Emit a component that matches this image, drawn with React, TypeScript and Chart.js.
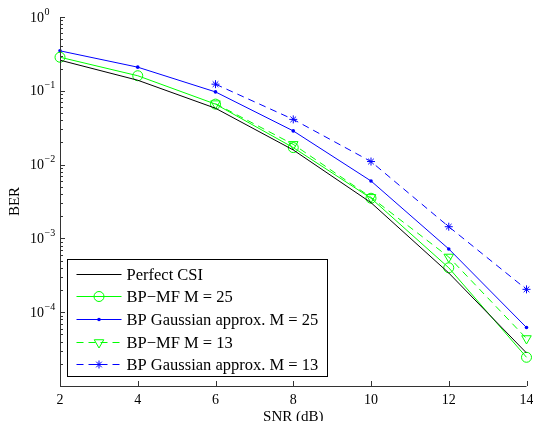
import React, { useEffect, useRef } from 'react';
import { Chart, registerables } from 'chart.js';

Chart.register(...registerables);

const snr = [2, 4, 6, 8, 10, 12, 14];
const perfectCSI = [0.26, 0.139, 0.058, 0.0158, 0.00305, 3.4e-4, 2.8e-5];
const bpMf25 = [0.285, 0.16, 0.066, 0.017, 0.0035, 4.0e-4, 2.45e-5];
const bpGauss25 = [0.348, 0.209, 0.0966, 0.0286, 0.006, 7.2e-4, 6.2e-5];
const bpMf13 = [null, null, 0.067, 0.0188, 0.0036, 5.6e-4, 4.4e-5];
const bpGauss13 = [null, null, 0.123, 0.041, 0.011, 0.00144, 2.04e-4];
const xTicks = [2, 4, 6, 8, 10, 12, 14];
const yLabelExponents = [0, -1, -2, -3, -4];
const legendLabels = [
  'Perfect CSI',
  'BP\u2212MF M = 25',
  'BP Gaussian approx. M = 25',
  'BP\u2212MF M = 13',
  'BP Gaussian approx. M = 13',
];

const FONT = '"Liberation Serif", "DejaVu Serif", serif';
const AXIS = '#333333';
const GREEN = '#00ff00';
const BLUE = '#0000ff';

function toPoints(vals: (number | null)[]) {
  const out: { x: number; y: number }[] = [];
  vals.forEach((v, i) => {
    if (v !== null) out.push({ x: snr[i], y: v });
  });
  return out;
}

function drawMarker(ctx: CanvasRenderingContext2D, kind: string, x: number, y: number, color: string) {
  ctx.save();
  ctx.strokeStyle = color;
  ctx.fillStyle = color;
  ctx.lineWidth = 1;
  ctx.setLineDash([]);
  ctx.beginPath();
  if (kind === 'circle') {
    ctx.arc(x, y, 5, 0, Math.PI * 2);
    ctx.stroke();
  } else if (kind === 'dot') {
    ctx.arc(x, y, 1.8, 0, Math.PI * 2);
    ctx.fill();
  } else if (kind === 'tri') {
    const r = 5.5;
    ctx.moveTo(x - r * 0.866, y - r * 0.5);
    ctx.lineTo(x + r * 0.866, y - r * 0.5);
    ctx.lineTo(x, y + r);
    ctx.closePath();
    ctx.stroke();
  } else if (kind === 'star') {
    const r = 4;
    ctx.moveTo(x - r, y); ctx.lineTo(x + r, y);
    ctx.moveTo(x, y - r); ctx.lineTo(x, y + r);
    const d = r * 0.707;
    ctx.moveTo(x - d, y - d); ctx.lineTo(x + d, y + d);
    ctx.moveTo(x - d, y + d); ctx.lineTo(x + d, y - d);
    ctx.stroke();
  }
  ctx.restore();
}

const legendStyles = [
  { color: '#000000', dash: [] as number[], marker: '' },
  { color: GREEN, dash: [] as number[], marker: 'circle' },
  { color: BLUE, dash: [] as number[], marker: 'dot' },
  { color: GREEN, dash: [7, 5], marker: 'tri' },
  { color: BLUE, dash: [7, 5], marker: 'star' },
];

const matlabPlugin = {
  id: 'matlabAxes',
  afterDraw(chart: any) {
    const ctx: CanvasRenderingContext2D = chart.ctx;
    const ca = chart.chartArea;
    const xs = chart.scales.x;
    const ys = chart.scales.y;
    ctx.save();
    ctx.strokeStyle = AXIS;
    ctx.lineWidth = 1;
    ctx.setLineDash([]);
    ctx.beginPath();
    ctx.moveTo(ca.left + 0.5, ca.top);
    ctx.lineTo(ca.left + 0.5, ca.bottom + 0.5);
    ctx.lineTo(ca.right, ca.bottom + 0.5);
    ctx.stroke();
    ctx.beginPath();
    for (let d = -5; d <= 0; d++) {
      const y = Math.round(ys.getPixelForValue(Math.pow(10, d))) + 0.5;
      ctx.moveTo(ca.left, y);
      ctx.lineTo(ca.left + 5, y);
      if (d < 0) {
        for (let k = 2; k <= 9; k++) {
          const ym = Math.round(ys.getPixelForValue(k * Math.pow(10, d))) + 0.5;
          ctx.moveTo(ca.left, ym);
          ctx.lineTo(ca.left + 3, ym);
        }
      }
    }
    xTicks.forEach((t) => {
      const x = Math.round(xs.getPixelForValue(t)) + 0.5;
      ctx.moveTo(x, ca.bottom);
      ctx.lineTo(x, ca.bottom - 5);
    });
    ctx.stroke();

    ctx.fillStyle = '#000';
    ctx.font = `14px ${FONT}`;
    ctx.textAlign = 'center';
    ctx.textBaseline = 'middle';
    xTicks.forEach((t) => {
      ctx.fillText(String(t), xs.getPixelForValue(t), ca.bottom + 14);
    });
    yLabelExponents.forEach((e) => {
      const y = ys.getPixelForValue(Math.pow(10, e));
      ctx.font = `14px ${FONT}`;
      ctx.textAlign = 'right';
      ctx.textBaseline = 'middle';
      const baseRight = ca.left - 16;
      ctx.fillText('10', baseRight, y + 1);
      ctx.font = `10px ${FONT}`;
      ctx.textAlign = 'left';
      const sup = e === 0 ? '0' : '\u2212' + String(-e);
      ctx.fillText(sup, baseRight + 0.5, y - 5);
    });
    ctx.font = `15px ${FONT}`;
    ctx.textAlign = 'center';
    ctx.textBaseline = 'middle';
    ctx.fillText('SNR (dB)', (ca.left + ca.right) / 2, ca.bottom + 31);
    ctx.save();
    ctx.translate(15, (ca.top + ca.bottom) / 2);
    ctx.rotate(-Math.PI / 2);
    ctx.fillText('BER', 0, 0);
    ctx.restore();

    // legend
    const LF = `16.5px ${FONT}`;
    ctx.font = LF;
    let maxW = 0;
    legendLabels.forEach((l) => { maxW = Math.max(maxW, ctx.measureText(l).width); });
    const bx = ca.left + 7.5;
    const textX = bx + 59;
    const bw = Math.round(textX + maxW + 9 - bx);
    const bh = 117;
    const by = ca.bottom - 10 - bh + 0.5;
    ctx.fillStyle = '#fff';
    ctx.fillRect(bx, by, bw, bh);
    ctx.strokeStyle = '#000';
    ctx.lineWidth = 1;
    ctx.strokeRect(bx, by, bw, bh);
    legendLabels.forEach((label, i) => {
      const st = legendStyles[i];
      const ry = Math.round(by + 14 + i * 22.7) + 0.5;
      ctx.save();
      ctx.strokeStyle = st.color;
      ctx.lineWidth = 1;
      ctx.setLineDash(st.dash);
      ctx.beginPath();
      ctx.moveTo(bx + 9, ry);
      ctx.lineTo(bx + 54, ry);
      ctx.stroke();
      ctx.restore();
      if (st.marker) drawMarker(ctx, st.marker, bx + 31.5, ry, st.color);
      ctx.fillStyle = '#000';
      ctx.font = LF;
      ctx.textAlign = 'left';
      ctx.textBaseline = 'middle';
      ctx.fillText(label, textX, ry + 1);
    });
    ctx.restore();
  },
};

export default function App() {
  const ref = useRef<HTMLCanvasElement | null>(null);
  useEffect(() => {
    if (!ref.current) return;
    const chart = new Chart(ref.current, {
      type: 'line',
      data: {
        datasets: [
          {
            label: legendLabels[0],
            data: toPoints(perfectCSI),
            borderColor: '#000000',
            borderWidth: 1,
            pointRadius: 0,
            tension: 0,
            clip: false,
          },
          {
            label: legendLabels[1],
            data: toPoints(bpMf25),
            borderColor: GREEN,
            borderWidth: 1,
            pointStyle: 'circle',
            pointRadius: 5,
            pointBorderColor: GREEN,
            pointBackgroundColor: 'rgba(0,0,0,0)',
            pointBorderWidth: 1,
            tension: 0,
            clip: false,
          },
          {
            label: legendLabels[2],
            data: toPoints(bpGauss25),
            borderColor: BLUE,
            borderWidth: 1,
            pointStyle: 'circle',
            pointRadius: 1.8,
            pointBorderWidth: 0,
            pointBackgroundColor: BLUE,
            tension: 0,
            clip: false,
          },
          {
            label: legendLabels[3],
            data: toPoints(bpMf13),
            borderColor: GREEN,
            borderWidth: 1,
            borderDash: [7, 5],
            pointStyle: 'triangle',
            pointRotation: 180,
            pointRadius: 5.5,
            pointBorderColor: GREEN,
            pointBackgroundColor: 'rgba(0,0,0,0)',
            pointBorderWidth: 1,
            tension: 0,
            clip: false,
          },
          {
            label: legendLabels[4],
            data: toPoints(bpGauss13),
            borderColor: BLUE,
            borderWidth: 1,
            borderDash: [7, 5],
            pointStyle: 'star',
            pointRadius: 4,
            pointBorderColor: BLUE,
            pointBorderWidth: 1,
            tension: 0,
            clip: false,
          },
        ],
      },
      options: {
        animation: false,
        responsive: true,
        maintainAspectRatio: false,
        layout: { padding: { left: 60, right: 6, top: 17, bottom: 35 } },
        plugins: { legend: { display: false }, tooltip: { enabled: false } },
        scales: {
          x: { type: 'linear', min: 2, max: 14, display: false },
          y: { type: 'logarithmic', min: 1e-5, max: 1, display: false },
        },
      },
      plugins: [matlabPlugin],
    } as any);
    return () => chart.destroy();
  }, []);
  return (
    <div style={{ position: 'fixed', left: 0, top: 0, width: 533, height: 421, background: '#fff' }}>
      <canvas ref={ref} />
    </div>
  );
}
